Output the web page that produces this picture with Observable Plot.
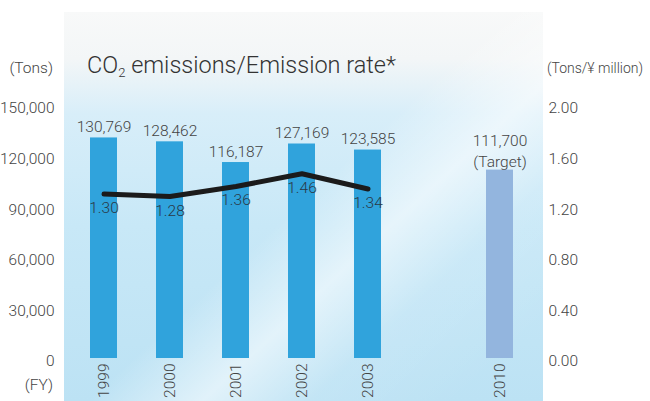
<!DOCTYPE html>
<html><head><meta charset="utf-8">
<script src="https://cdn.jsdelivr.net/npm/d3@7"></script>
<script src="https://cdn.jsdelivr.net/npm/@observablehq/plot@0.6"></script>
<style>html,body{margin:0;padding:0;background:#fff;} svg{display:block}</style>
</head><body><div id="chart"></div>
<script>
const years = ["1999", "2000", "2001", "2002", "2003", "2010"];
const emissions = [130769, 128462, 116187, 127169, 123585, 111700];
const rateYears = ["1999", "2000", "2001", "2002", "2003"];
const rates = [1.30, 1.28, 1.36, 1.46, 1.34];
const leftTicks = [0, 30000, 60000, 90000, 120000, 150000];
const rightTicks = [0, 0.40, 0.80, 1.20, 1.60, 2.00];
const slots = ["1999", "2000", "2001", "2002", "2003", "gap", "2010"];
const targetYear = "2010";

const RATIO = 75000; // 2.00 Tons/¥ million <-> 150,000 Tons
const barData = years.map((y, i) => ({year: y, value: emissions[i]}));
const actual = barData.filter(d => d.year !== targetYear);
const target = barData.filter(d => d.year === targetYear);
const rateData = rateYears.map((y, i) => ({year: y, rate: rates[i]}));
const fmt = d3.format(",");
const FS = 15.5;

const chart = Plot.plot({
  width: 650, height: 401,
  marginLeft: 64, marginRight: 107, marginTop: 105, marginBottom: 43,
  style: {fontFamily: "Roboto", fontSize: FS + "px", fontWeight: 300, color: "#444", background: "transparent", overflow: "visible"},
  x: {type: "band", domain: slots, paddingInner: 0.595, paddingOuter: 0.3825, align: 0.47, axis: null},
  y: {domain: [0, 150000], axis: null},
  marks: [
    Plot.barY(actual, {x: "year", y: "value", fill: "#30a3dc"}),
    Plot.barY(target, {x: "year", y: "value", fill: "#93b5de"}),
    Plot.text(actual, {x: "year", y: "value", text: d => fmt(d.value), dy: -11, fill: "#444", fontSize: FS}),
    Plot.text(target, {x: "year", y: "value", text: d => fmt(d.value) + "\n(Target)", dy: -20, lineHeight: 1.3, fill: "#444", fontSize: FS}),
    Plot.line(rateData, {x: "year", y: d => d.rate * RATIO, stroke: "#1b1b1b", strokeWidth: 5, strokeLinecap: "round", strokeLinejoin: "round"}),
    Plot.text(rateData, {x: "year", y: d => d.rate * RATIO, text: d => d.rate.toFixed(2), dy: 14, fill: "#2a3846", fontSize: FS}),
    Plot.axisY(leftTicks, {anchor: "left", tickSize: 0, tickPadding: 10, tickFormat: d => fmt(d), label: null, dy: 3, fill: "#444", fontSize: FS}),
    Plot.axisY(rightTicks.map(r => r * RATIO), {anchor: "right", tickSize: 0, tickPadding: 5, tickFormat: d => (d / RATIO).toFixed(2), label: null, dy: 3, fill: "#444", fontSize: FS}),
    Plot.axisX(years, {anchor: "bottom", tickSize: 0, tickPadding: 5, tickRotate: -90, label: null, fill: "#444", fontSize: FS})
  ]
});

const svg = d3.select(chart);
const defs = svg.insert("defs", ":first-child");
const g1 = defs.append("linearGradient").attr("id", "bgv").attr("x1", 0).attr("y1", 0).attr("x2", 0).attr("y2", 1);
[["0%", "#f8f9f9"], ["12%", "#f3f6f7"], ["26%", "#d8eef9"], ["55%", "#c8e8f7"], ["100%", "#bce2f4"]]
  .forEach(([o, c]) => g1.append("stop").attr("offset", o).attr("stop-color", c));
const g2 = defs.append("linearGradient").attr("id", "bgd").attr("x1", 0.2).attr("y1", 0.1).attr("x2", 1).attr("y2", 0.8);
[["0%", 0], ["45%", 0], ["62%", 0.55], ["78%", 0.1], ["100%", 0]]
  .forEach(([o, a]) => g2.append("stop").attr("offset", o).attr("stop-color", "#ffffff").attr("stop-opacity", a));
const bgG = svg.insert("g", "defs + *");
bgG.append("rect").attr("x", 64).attr("y", 12).attr("width", 479).attr("height", 389).attr("fill", "url(#bgv)");
bgG.append("rect").attr("x", 64).attr("y", 12).attr("width", 479).attr("height", 389).attr("fill", "url(#bgd)");

const ann = svg.append("g").attr("font-family", "Roboto").attr("font-weight", 300).attr("fill", "#444").attr("font-size", FS).attr("text-anchor", "start");
const title = ann.append("text").attr("x", 87).attr("y", 73).attr("font-size", 23.5).attr("fill", "#333").attr("text-anchor", "start");
title.append("tspan").text("CO");
title.append("tspan").attr("font-size", 13).attr("dy", 4).text("2");
title.append("tspan").attr("dy", -4).text(" emissions/Emission rate*");
ann.append("text").attr("x", 53).attr("y", 73).attr("text-anchor", "end").text("(Tons)");
ann.append("text").attr("x", 547).attr("y", 73).attr("text-anchor", "start").attr("font-size", 14).text("(Tons/¥ million)");
ann.append("text").attr("x", 53).attr("y", 390).attr("text-anchor", "end").text("(FY)");

document.getElementById("chart").appendChild(chart);
</script>
</body></html>
